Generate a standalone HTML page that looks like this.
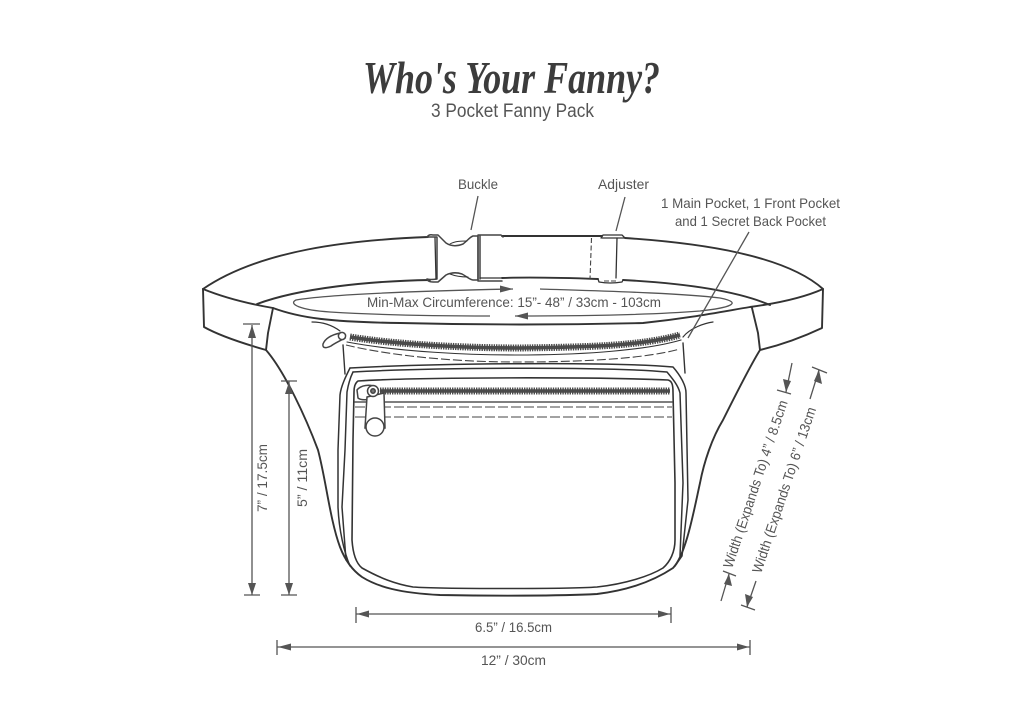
<!DOCTYPE html>
<html>
<head>
<meta charset="utf-8">
<style>
html,body{margin:0;padding:0;background:#fff;}
svg{display:block;}
text{font-family:"Liberation Sans",sans-serif;fill:#555;font-size:14px;}
</style>
</head>
<body>
<svg width="1024" height="724" viewBox="0 0 1024 724" xmlns="http://www.w3.org/2000/svg">
<rect width="1024" height="724" fill="#fff"/>
<text x="363" y="93" textLength="297" lengthAdjust="spacingAndGlyphs" style="font-family:'Liberation Serif',serif;font-style:italic;font-weight:bold;font-size:46px;fill:#3c3c3c">Who's Your Fanny?</text>
<text x="431" y="117" textLength="163" lengthAdjust="spacingAndGlyphs" style="font-size:19px">3 Pocket Fanny Pack</text>
<text x="458" y="189" textLength="40" lengthAdjust="spacingAndGlyphs">Buckle</text>
<text x="598" y="189" textLength="51" lengthAdjust="spacingAndGlyphs">Adjuster</text>
<text x="661" y="208" textLength="179" lengthAdjust="spacingAndGlyphs">1 Main Pocket, 1 Front Pocket</text>
<text x="675" y="226" textLength="151" lengthAdjust="spacingAndGlyphs">and 1 Secret Back Pocket</text>

<g fill="none" stroke="#333" stroke-width="1.9" stroke-linejoin="round" stroke-linecap="round">
<!-- belt -->
<path d="M203 289 C260 250 350 240 428 237"/>
<path d="M625 238 C700 243 785 255 823 289"/>
<path d="M502 236 L602 236"/>
<path d="M203 289 L204 327 C220 336 245 344 266 350 L268 333 L273 308 C300 318 330 322 400 323 C480 325 560 325 643 323 C690 318 720 312 750 307 C780 303 805 297 823 289 L822 328 C805 336 785 344 760 350 L758 333 L752 308"/>
<path d="M203 289 C225 298 250 304 273 308"/>
<path d="M257 304 C300 288 370 281 430 280"/>
<path d="M502 278 C530 277 570 278 598 279"/>
<path d="M623 280 C680 283 735 290 770 305"/>
<!-- pack outline -->
<path d="M266 350 C285 372 306 418 318 450 C326 480 330 520 340 547 C345 560 352 570 362 577 C378 587 400 593 440 595 C490 596 560 596 597 594 C630 590 655 580 673 568 C686 555 694 510 700 483 C704 462 712 438 723 420 C732 402 750 366 760 350"/>
<!-- main compartment -->
<path d="M343 345 L345 374" stroke-width="1.4"/>
<path d="M683 343 L685 373" stroke-width="1.4"/>
<path d="M312 322 C322 322 332 325 340 331" stroke-width="1.2"/>
<path d="M713 322 C705 323 690 328 683 337" stroke-width="1.2"/>
<path d="M347 342 C400 352 470 355 515 355 C570 355 640 352 681 340" stroke-width="1.1"/>
<!-- front pocket lines -->
<path d="M350 368 C346 376 341 386 340 395 L338 450 L338 507 C339 530 344 552 350 566" stroke-width="1.5"/>
<path d="M350 368 C420 364 600 361 673 367 C680 375 686 385 686 393 L688 500 L682 556 L675 566" stroke-width="1.5"/>
<path d="M353 372 C420 368 600 366 667 372 C672 378 678 385 680 393 L683 483 L680 556" stroke-width="1.5"/>
<path d="M353 372 C350 378 348 386 347 392 L345 450 L342 507 L346 560" stroke-width="1.5"/>
<path d="M358 381 C355 383 354 388 354 392 L353 440 L352 540 C353 555 357 564 362 568 C380 578 395 584 413 587 C440 589 570 589 597 587 C625 584 650 576 663 568 C670 562 675 552 675 540 L675 483 L673 392 C673 385 672 381 668 380 C600 377 420 377 358 381Z" stroke-width="1.6"/>
<path d="M355 402 L672 402" stroke-width="1.3"/>
<!-- buckle -->
<path d="M427 237 Q429 234 433 235 L438 235 L446 243 C452 247 458 246 463 244 C467 241 470 237 473 236 L478 236 L478 280 L473 280 C470 280 466 276 462 274 C456 272 450 273 446 275 L438 282 L433 282 Q428 282 427 279 Q430 280 437 279 L437 237 Z" stroke-width="1.5" stroke="#444"/>
<path d="M435 238 L436 279" stroke-width="1.3"/>
<path d="M450 244 C455 241 462 241 467 241" stroke-width="1"/>
<path d="M450 274 C455 276 462 277 468 277" stroke-width="1"/>
<path d="M478 235 L501 235 L503 237 M478 281 L502 281 M480 236 L480 279 M478 236 L478 280" stroke-width="1.5" stroke="#444"/>
<path d="M480 278 L502 278" stroke-width="1.3"/>
<!-- adjuster -->
<path d="M601 238 L603 235 L622 235 L625 238 M602 238 L625 238" stroke-width="1.3"/>
<path d="M617 238 L616 278" stroke-width="1.3"/>
<path d="M598 279 L599 282 Q610 284 622 282 L623 280" stroke-width="1.3"/>
</g>
<g fill="none" stroke="#444" stroke-width="1.1">
<path d="M591.5 238 L590 279" stroke-dasharray="5 2.5"/>
<path d="M604 281 L618 281" stroke-dasharray="5 2" />
<path d="M346 345 C400 358 470 362 515 362 C570 362 640 360 680 349" stroke-dasharray="9 3"/>
<path d="M355 407 L672 407" stroke-dasharray="10 3"/>
<path d="M355 417 L672 417" stroke-dasharray="10 3"/>
</g>
<!-- zippers -->
<g fill="none" stroke="#4a4a4a">
<path d="M350 337 C400 345 470 348 520 348 C590 347 640 346 680 335" stroke-width="3.6"/>
<path d="M350 337 C400 345 470 348 520 348 C590 347 640 346 680 335" stroke-width="7" stroke-dasharray="1.4 1"/>
<path d="M380 391 L670 391" stroke-width="3.6"/>
<path d="M380 391 L670 391" stroke-width="7" stroke-dasharray="1.4 1"/>
</g>
<!-- pullers -->
<g fill="#fff" stroke="#444" stroke-width="1.5">
<path d="M340 333 C331 335 325 339 323 344 C322 349 327 348 331 346 C335 343 340 341 345 338Z"/>
<circle cx="342" cy="336" r="3.6"/>
<path d="M357 390 C361 385 370 384 376 387 L376 396 C370 400 362 401 358 398Z"/>
<path d="M367 397 L384 393 L385 428 L365 428 Z"/>
<ellipse cx="375" cy="427" rx="9" ry="9"/>
<circle cx="373" cy="391" r="5.500"/>
<circle cx="373" cy="391" r="2.200" fill="#777"/>
</g>
<!-- leaders -->
<g stroke="#555" stroke-width="1.3" fill="none">
<path d="M478 196 L471 230"/>
<path d="M625 197 L616 231"/>
<path d="M749 232 L688 338"/>
<!-- circumference -->
<path d="M513 289 C420 291 330 294 296 300 C288 304 300 310 330 312 C380 315 440 316 490 316"/>
<path d="M540 289 C600 291 680 293 720 298 C745 303 728 308 700 311 C650 315 580 316 515 316"/>
<!-- dims -->
<path d="M252 325 L252 595 M243 324 L260 324 M244 595 L260 595"/>
<path d="M289 381 L289 595 M281 381 L297 381 M281 595 L297 595"/>
<path d="M356 614 L671 614 M356 607 L356 623 M671 607 L671 623"/>
<path d="M277 647 L750 647 M277 640 L277 655 M750 640 L750 655"/>
<path d="M792 363 L786 392 M777 390 L791 394"/>
<path d="M729 574 L721 601 M723 571 L736 576"/>
<path d="M810 399 L819 370 M812 367 L827 373"/>
<path d="M756 581 L747 607 M741 605 L755 610"/>
</g>
<g fill="#555" stroke="none">
<path d="M252 325 L256 338 L248 338Z"/>
<path d="M252 595 L248 583 L256 583Z"/>
<path d="M289 382 L293 394 L285 394Z"/>
<path d="M289 595 L285 583 L293 583Z"/>
<path d="M357 614 L369 610.500 L369 617.500Z"/>
<path d="M670 614 L658 610.500 L658 617.500Z"/>
<path d="M278 647 L291 643.500 L291 650.500Z"/>
<path d="M749 647 L737 643.500 L737 650.500Z"/>
<path d="M786 392 L783 379 L791 381Z"/>
<path d="M729 574 L732 586 L724 584Z"/>
<path d="M819 370 L822 384 L814 381Z"/>
<path d="M747 607 L745 594 L753 597Z"/>
<path d="M513 289 L500 285.500 L500 292.500Z"/>
<path d="M515 316 L528 312.500 L528 319.500Z"/>
</g>
<text x="367" y="307" textLength="294" lengthAdjust="spacingAndGlyphs">Min-Max Circumference: 15”- 48” / 33cm - 103cm</text>
<text x="475" y="632" textLength="77" lengthAdjust="spacingAndGlyphs">6.5” / 16.5cm</text>
<text x="481" y="665" textLength="65" lengthAdjust="spacingAndGlyphs">12” / 30cm</text>
<text transform="translate(267 512) rotate(-90)" textLength="68" lengthAdjust="spacingAndGlyphs">7” / 17.5cm</text>
<text transform="translate(307 507) rotate(-90)" textLength="58" lengthAdjust="spacingAndGlyphs">5” / 11cm</text>
<text transform="translate(732 569) rotate(-71.500)" textLength="176" lengthAdjust="spacingAndGlyphs">Width (Expands To) 4” / 8.5cm</text>
<text transform="translate(761 574) rotate(-71.500)" textLength="174" lengthAdjust="spacingAndGlyphs">Width (Expands To) 6” / 13cm</text>
</svg>
</body>
</html>
